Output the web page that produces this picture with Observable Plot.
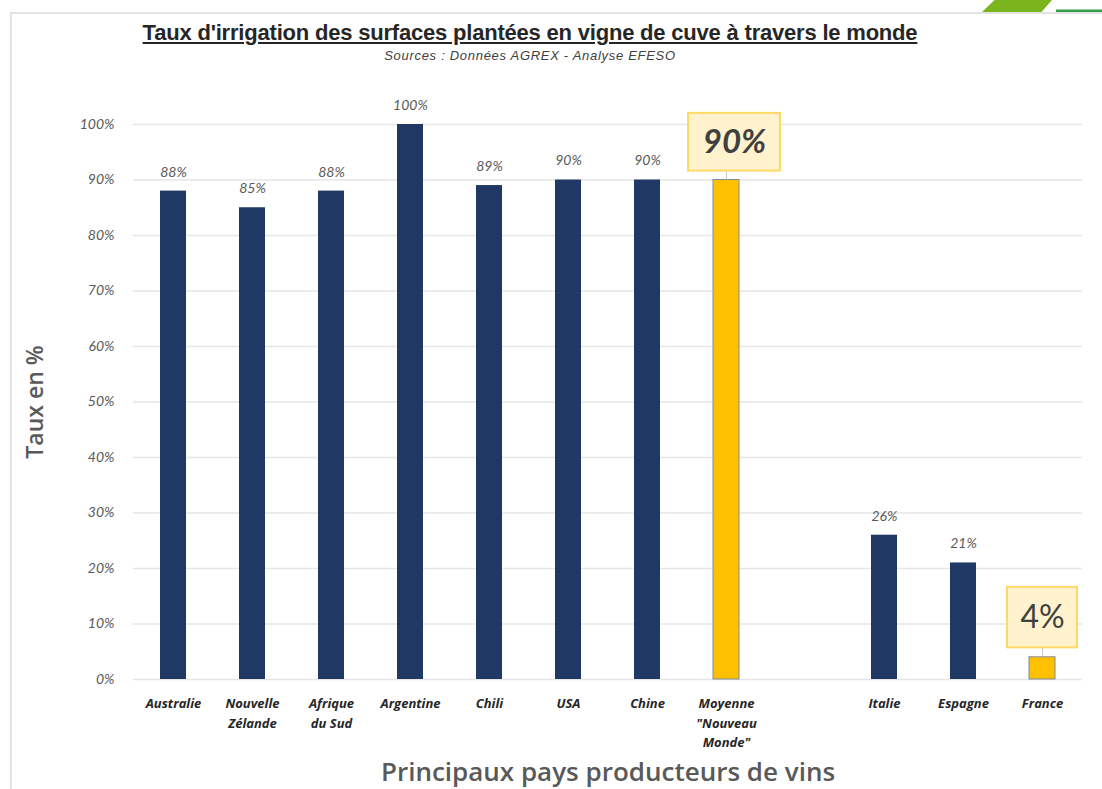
<!DOCTYPE html>
<html>
<head>
<meta charset="utf-8">
<script src="https://cdn.jsdelivr.net/npm/d3@7"></script>
<script src="https://cdn.jsdelivr.net/npm/@observablehq/plot@0.6"></script>
<style>
  body { margin: 0; background: #fff; width: 1102px; height: 789px; overflow: hidden; position: relative; font-family: "Open Sans", sans-serif; }
  #frame { position: absolute; left: 10px; top: 12px; width: 1100px; height: 790px; border-left: 2px solid #e3e3e3; border-top: 2px solid #e3e3e3; }
  #logo { position: absolute; left: 982px; top: 0; width: 70px; height: 12px; background: #7ab51d; clip-path: polygon(18% 0, 100% 0, 85% 100%, 0 100%); }
  #logo2 { position: absolute; left: 1056px; top: 0; width: 46px; height: 12px; background: #2f9e44; clip-path: polygon(0 80%, 100% 80%, 100% 100%, 0 100%); }
  #head { height: 65px; text-align: center; position: relative; }
  #title { position: absolute; top: 20px; left: 0; width: 1060px; text-align: center; font-family: "Liberation Sans", sans-serif; font-weight: bold; font-size: 22px; color: #262626; text-decoration: underline; letter-spacing: -0.2px; }
  #sub { position: absolute; top: 48px; left: 0; width: 1060px; text-align: center; font-family: "Liberation Sans Narrow", "Liberation Sans", sans-serif; font-style: italic; font-size: 13px; letter-spacing: 0.7px; color: #404040; }
  #chart svg { display: block; }
</style>
</head>
<body>
<div id="frame"></div>
<div id="logo"></div>
<div id="logo2"></div>
<div id="head">
  <div id="title">Taux d'irrigation des surfaces plantées en vigne de cuve à travers le monde</div>
  <div id="sub">Sources : Données AGREX - Analyse EFESO</div>
</div>
<div id="chart"></div>
<script>
const pays = ["Australie", "Nouvelle\nZélande", "Afrique\ndu Sud", "Argentine", "Chili", "USA", "Chine", "Moyenne\n\"Nouveau\nMonde\"", "Italie", "Espagne", "France"];
const taux = [88, 85, 88, 100, 89, 90, 90, 90, 26, 21, 4];
const moyennes = ["Moyenne\n\"Nouveau\nMonde\"", "France"];
const yTicks = [0, 10, 20, 30, 40, 50, 60, 70, 80, 90, 100];
const espace = " ";

const data = pays.map((p, i) => ({pays: p, taux: taux[i], moyenne: moyennes.includes(p)}));
const domaine = [...pays.slice(0, 8), espace, ...pays.slice(8)];
const normal = data.filter(d => !d.moyenne);
const mis = data.filter(d => d.moyenne);
const misNM = mis.filter(d => d.pays !== "France");
const misFR = mis.filter(d => d.pays === "France");

const labelFont = "Lato, 'DejaVu Sans', sans-serif";

const chart = Plot.plot({
  width: 1102,
  height: 724,
  marginLeft: 133,
  marginRight: 20,
  marginTop: 59,
  marginBottom: 110,
  x: {type: "band", domain: domaine, paddingInner: 0.67, paddingOuter: 0.335},
  y: {domain: [0, 100]},
  marks: [
    Plot.ruleY(yTicks, {stroke: "#e6e6e6", strokeWidth: 1.5}),
    Plot.axisY({ticks: yTicks, tickSize: 0, tickPadding: 19, label: null, tickFormat: d => d + "%",
      fontSize: 14, fontStyle: "italic", fontFamily: labelFont, fill: "#595959"}),
    Plot.axisX({tickSize: 0, tickPadding: 15, label: null, lineHeight: 1.5, fontSize: 13,
      fontWeight: "bold", fontStyle: "italic", fontFamily: "'Open Sans', sans-serif", fill: "#262626",
      tickFormat: d => d === espace ? "" : d}),
    Plot.barY(normal, {x: "pays", y: "taux", fill: "#1f3864"}),
    Plot.barY(mis, {x: "pays", y: "taux", fill: "#ffc000", stroke: "#7f8ba0", strokeWidth: 1}),
    Plot.text(normal, {x: "pays", y: "taux", text: d => d.taux + "%", dy: -19,
      fontSize: 14, fontStyle: "italic", fontFamily: labelFont, fill: "#595959"}),
    Plot.ruleX(mis, {x: "pays", y1: "taux", y2: d => d.taux + 1.6, stroke: "#c8c8c8"}),
    Plot.rectY(misNM, {x: "pays", y1: d => d.taux + 1.6, y2: d => d.taux + 12, fill: "#fff2cc",
      stroke: "#ffd966", strokeWidth: 2, insetLeft: -25, insetRight: -41}),
    Plot.rectY(misFR, {x: "pays", y1: d => d.taux + 1.7, y2: d => d.taux + 12.6, fill: "#fff2cc",
      stroke: "#ffd966", strokeWidth: 2, insetLeft: -22, insetRight: -22}),
    Plot.text(misNM, {x: "pays", y: d => d.taux + 6.8, dx: 8, text: d => d.taux + "%",
      fontSize: 33, fontStyle: "italic", fontWeight: "bold", fontFamily: labelFont, fill: "#404040"}),
    Plot.text(misFR, {x: "pays", y: d => d.taux + 7.1, text: d => d.taux + "%",
      fontSize: 32, fontFamily: labelFont, fill: "#404040"}),
    Plot.text(["Taux en %"], {frameAnchor: "left", textAnchor: "middle", dx: -98, rotate: -90, fontSize: 23,
      fontWeight: 600, fontFamily: "'Open Sans', sans-serif", fill: "#595959"}),
    Plot.text(["Principaux pays producteurs de vins"], {frameAnchor: "bottom", lineAnchor: "middle", dy: 93, fontSize: 26,
      fontWeight: 600, fontFamily: "'Open Sans', sans-serif", fill: "#595959"})
  ]
});
document.getElementById("chart").appendChild(chart);
</script>
</body>
</html>
